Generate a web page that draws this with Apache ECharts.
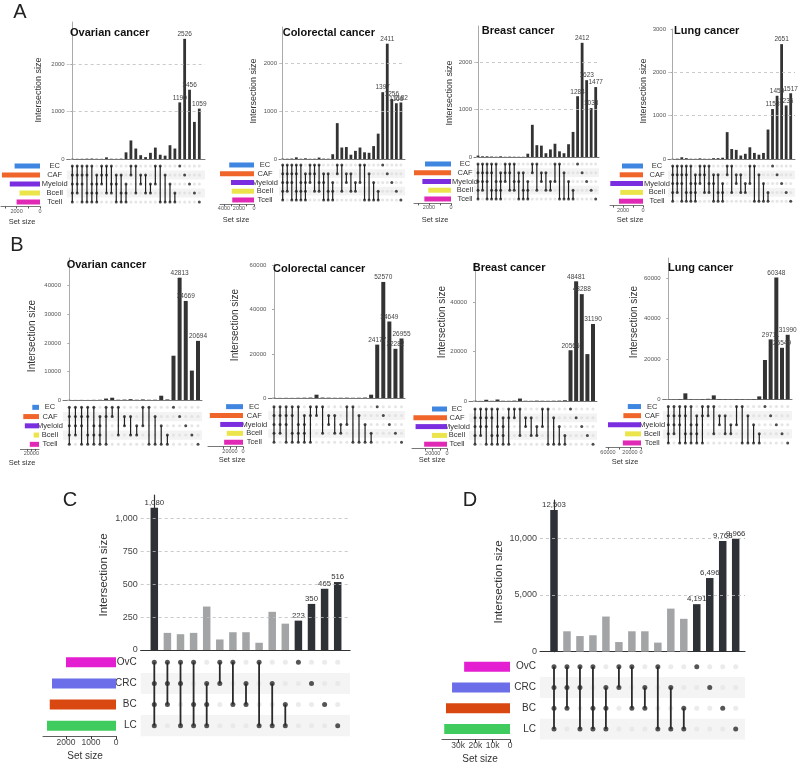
<!DOCTYPE html>
<html><head><meta charset="utf-8">
<script src="https://cdn.jsdelivr.net/npm/echarts@6/dist/echarts.min.js"></script>
<style>html,body{margin:0;padding:0;background:#fff}#c{width:800px;height:765px}</style>
</head><body><div id="c"></div>
<script>
// ================= DATA =================
// Panels A & B: cell-type sets
const setsAB = ['EC','CAF','Myeloid','Bcell','Tcell'];
const colorsAB = ['#3f86e0','#f0652a','#7b2ee0','#ebe54b','#e02ab6'];
const combosA = ['11111','11110','11101','11011','10111','01111',
  '11100','11010','10110','01101','01011','00111',
  '11000','10010','01100','01010','00110','10100','10001','01001','00101','00011',
  '10000','01000','00100','00010','00001'];
const combosB = ['11111','11110','11101','11011','10111','01111','11001',
  '11000','10010','01100','01010','00110','10100','10001','01001','00101','00011',
  '10000','01000','00100','00010','00001'];

// Panel A intersection sizes
const ovarianA = [6,4,5,8,10,6,4,35,6,5,8, 140,390,220,80,40,130,240,90,70,290,220, 1190,2526,1456,780,1059];
const colorectalA = [8,6,10,35,6,15,5,6,30,8,6, 100,750,240,250,90,170,240,140,130,270,530, 1397,2411,1256,1166,1182];
const breastA = [30,15,15,10,6,15,5,8,6,5,5, 70,680,250,240,80,160,280,120,80,270,530, 1284,2412,1623,1033,1477];
const lungA = [5,8,40,20,6,5,15,6,5,20,20, 30,620,230,210,80,120,270,140,100,140,680, 1153,1459,2651,1236,1517];
const ovarianA_labeled = [22,23,24,26];
const colorectalA_labeled = [22,23,24,25,26];
const breastA_labeled = [22,23,24,25,26];
const lungA_labeled = [22,23,24,25,26];
// Panel A set sizes
const ovarianA_set = [2170,3250,2580,1750,2000];
const colorectalA_set = [3300,4600,3070,2970,2900];
const breastA_set = [2360,3360,2600,2060,2420];
const lungA_set = [2100,2330,3270,2270,2400];

// Panel B intersection sizes
const ovarianB = [50,30,40,30,60,80,500,800,100,150,300,100,200,80,100,1500,200, 15500,42813,34669,10300,20694];
const colorectalB = [100,50,80,60,100,150,200,1500,200,150,100,120,150,100,120,200,1500, 24177,52570,34649,22282,26955];
const breastB = [100,50,500,80,600,100,80,150,1000,100,80,150,100,80,120,150,300, 20565,48481,43288,19000,31190];
const lungB = [100,80,200,3000,150,100,200,300,2000,200,150,100,200,150,100,200,1500, 19500,29711,60348,25549,31990];
const ovarianB_labeled = [18,19,21];
const colorectalB_labeled = [17,18,19,20,21];
const breastB_labeled = [17,18,19,21];
const lungB_labeled = [18,19,20,21];
// Panel B set sizes
const ovarianB_set = [17500,41000,37000,14000,24000];
const colorectalB_set = [26000,51000,35000,25000,29000];
const breastB_set = [21000,47000,44000,21000,32000];
const lungB_set = [24000,32000,60000,29000,33000];

// Panels C & D: cancer-type sets
const setsCD = ['OvC','CRC','BC','LC'];
const colorsCD = ['#e31fd1','#6b6ee8','#d94810','#3fcb5d'];
const combosCD = ['1111','1110','1101','1011','0111','1100','1010','0110','1001','0101','0011','1000','0100','0010','0001'];
const valuesC = [1080,130,120,130,330,80,135,135,55,290,200,223,350,465,516];
const valuesD = [12503,1800,1380,1450,3100,850,1800,1800,800,3800,2900,4191,6496,9768,9966];
const highlightCD = [1,0,0,0,0,0,0,0,0,0,0,1,1,1,1];
const setSizeC = [2000,2560,2650,2760];
const setSizeD = [26500,33500,37000,38000];

// Tick values
const yTicksA3 = [0,1000,2000];
const yTicksA4 = [0,1000,2000,3000];
const yTicksBov = [0,10000,20000,30000,40000];
const yTicksB3 = [0,20000,40000];
const yTicksB4 = [0,20000,40000,60000];
const yTicksC = [0,250,500,750,1000];
const yTicksD = [0,5000,10000];
const dashA = [1000,2000];
const dashC = [250,500,750,1000];
const dashD = [5000,10000];
const setTicksA3 = [0,1000,2000,3000];
const setTicksA4 = [0,1000,2000,3000,4000];
const setLabA2 = [0,2000];
const setLabA3 = [0,2000,4000];
const setTicksB = [0,10000,20000,30000,40000];
const setLabB = [0,20000,40000];
const setTicksBl = [0,20000,40000,60000];
const setLabBl = [0,20000,60000];
const setTicksC = [0,1000,2000];
const setTicksD = [0,10000,20000,30000];

// ================= BUILD =================
const FONT = '"Liberation Sans", Arial, sans-serif';
const option = {animation:false, backgroundColor:'#fff', grid:[], xAxis:[], yAxis:[], series:[], graphic:[]};
function addAxes(grid, xa, ya){
  option.grid.push(grid); const gi = option.grid.length-1;
  option.xAxis.push(Object.assign({gridIndex:gi}, xa));
  option.yAxis.push(Object.assign({gridIndex:gi}, ya));
  return gi;
}
function txt(x,y,text,size,opt){
  opt = opt||{};
  option.graphic.push({type:'text', x:x, y:y, rotation:opt.rot||0, silent:true, z:100,
    style:{text:text, fontSize:size, fontFamily:FONT, fontWeight:opt.bold?'bold':'normal', fill:opt.color||'#222',
      align:opt.align||'center', verticalAlign:'middle'}});
}
const plain = v => String(v);
const comma = v => Number(v).toLocaleString('en-US');
const kfmt = v => v===0 ? '0' : (v/1000)+'k';

const styleA = {axisColor:'#777', yAxisColor:'#aaa', axisW:1, tickLen:2, tickFont:6, tickColor:'#555', tickMargin:2,
  barW:2.8, dataFont:6.5, dataColor:'#444', setFont:7.5, dotSize:3, bgDot:'#dedede', dot:'#1f1f1f', lineW:1.2,
  stripe:'#f3f3f3', setBarW:5, setAxisColor:'#555', setTickLen:2, setTickFont:5.5, setTickMargin:1.5, dash:'#bdbdbd',
  textColor:'#333'};
const styleB = Object.assign({}, styleA, {barW:4, dataFont:6.5});
const styleCD = {axisColor:'#333', yAxisColor:'#333', axisW:1.2, tickLen:3, tickFont:9, tickColor:'#444', tickMargin:3,
  barW:7.5, dataFont:7.8, dataColor:'#333', setFont:10, dotSize:5, bgDot:'#e6e6e6', dot:'#2a2a2a', lineW:1.8,
  stripe:'#f4f4f4', setBarW:10, setAxisColor:'#333', setTickLen:3, setTickFont:8.5, setTickMargin:2, dash:'#bdbdbd',
  textColor:'#333'};

function upset(p){
  const L = p.layout, S = p.style, n = p.combos.length, ns = p.sets.length;
  const sp = (L.lastC - L.firstC)/(n-1);
  const xmin = -(L.firstC - L.axisX)/sp;
  const xmax = (n-1) + (L.rightEnd - L.lastC)/sp;
  const w = L.rightEnd - L.axisX;
  const mh = L.rowH*ns;
  // bars
  const gb = addAxes({left:L.axisX, top:L.barTop, width:w, height:L.barBottom-L.barTop},
    {type:'value', min:xmin, max:xmax, axisLine:{show:true, onZero:false, lineStyle:{color:S.axisColor, width:S.axisW}},
      axisTick:{show:false}, axisLabel:{show:false}, splitLine:{show:false}},
    {type:'value', min:0, max:L.yMax, axisLine:{show:true, lineStyle:{color:S.yAxisColor, width:S.axisW}},
      axisTick:{show:true, length:S.tickLen, lineStyle:{color:S.yAxisColor}, customValues:p.yTicks},
      axisLabel:{show:true, customValues:p.yTicks, formatter:p.yFmt, fontSize:S.tickFont, color:S.tickColor, margin:S.tickMargin, fontFamily:FONT},
      splitLine:{show:false}});
  option.series.push({type:'bar', xAxisIndex:gb, yAxisIndex:gb, barWidth:S.barW,
    data:p.values.map((v,i)=>({value:[i,v],
      itemStyle:{color: p.highlight ? (p.highlight[i] ? '#2e3236' : '#a2a4a6') : '#333'},
      label:{show: p.labeled.indexOf(i) >= 0}})),
    label:{show:false, position:'top', distance:1, fontSize:S.dataFont, color:S.dataColor, fontFamily:FONT,
      formatter: q => p.fmt(q.value[1])},
    markLine:{silent:true, symbol:'none', label:{show:false}, animation:false,
      lineStyle:{type:[3,3], color:S.dash, width:0.8}, data:(p.dashed||[]).map(v=>({yAxis:v}))},
    z:3});
  // matrix
  const gm = addAxes({left:L.axisX, top:L.matTop, width:w, height:mh},
    {type:'value', min:xmin, max:xmax, show:false},
    {type:'category', data:p.sets, inverse:true, axisLine:{show:false}, axisTick:{show:false},
      axisLabel:{show:true, interval:0, hideOverlap:false, align:L.labelAlign, margin:L.labelMargin, fontSize:S.setFont, color:S.textColor, fontFamily:FONT},
      splitLine:{show:false}, splitArea:{show:true, interval:0, areaStyle:{color:['rgba(255,255,255,0)', S.stripe]}}});
  const bg=[], fg=[], segs=[];
  p.combos.forEach((c,i)=>{
    const rows=[];
    for(let r=0;r<ns;r++){ if(c[r]==='1'){fg.push([i,r]); rows.push(r);} else bg.push([i,r]); }
    if(rows.length>1) segs.push([i, rows[0], rows[rows.length-1]]);
  });
  option.series.push({type:'scatter', xAxisIndex:gm, yAxisIndex:gm, data:bg, symbolSize:S.dotSize, itemStyle:{color:S.bgDot}, silent:true, z:2});
  option.series.push({type:'custom', xAxisIndex:gm, yAxisIndex:gm, data:segs, encode:{x:0, y:[1,2]}, silent:true, z:3,
    renderItem:(params, api)=>{
      const a = api.coord([api.value(0), api.value(1)]);
      const b = api.coord([api.value(0), api.value(2)]);
      return {type:'line', shape:{x1:a[0], y1:a[1], x2:b[0], y2:b[1]}, style:{stroke:S.dot, lineWidth:S.lineW}};
    }});
  option.series.push({type:'scatter', xAxisIndex:gm, yAxisIndex:gm, data:fg, symbolSize:S.dotSize, itemStyle:{color:S.dot}, silent:true, z:4});
  // set sizes
  const gs = addAxes({left:L.setLeft, top:L.matTop, width:L.setRight-L.setLeft, height:mh},
    {type:'value', inverse:true, min:0, max:L.setMax, position:'bottom',
      axisLine:{show:true, onZero:false, lineStyle:{color:S.setAxisColor, width:0.8}},
      axisTick:{show:true, length:S.setTickLen, customValues:p.setTicks, lineStyle:{color:S.setAxisColor}},
      axisLabel:{show:true, customValues:p.setLabels, formatter:p.setFmt, fontSize:S.setTickFont, color:S.tickColor, margin:S.setTickMargin, fontFamily:FONT},
      splitLine:{show:false}},
    {type:'category', data:p.sets, inverse:true, show:false});
  option.series.push({type:'bar', xAxisIndex:gs, yAxisIndex:gs, barWidth:S.setBarW,
    data:p.setSizes.map((v,r)=>({value:v, itemStyle:{color:p.colors[r]}})), silent:true});
  // texts
  if(p.title) txt(p.titlePos[0], p.titlePos[1], p.title, p.titleSize||11, {bold:true, align:'left', color:'#111'});
  txt(p.yTitlePos[0], p.yTitlePos[1], 'Intersection size', p.yTitleSize, {rot:Math.PI/2, color:'#333'});
  txt(p.setTitlePos[0], p.setTitlePos[1], 'Set size', p.setTitleSize, {color:'#333'});
}

const baseA = {sets:setsAB, colors:colorsAB, combos:combosA, fmt:plain, yFmt:plain, setFmt:plain, style:styleA,
  dashed:dashA, yTitleSize:9, setTitleSize:7.5};
const baseB = {sets:setsAB, colors:colorsAB, combos:combosB, fmt:plain, yFmt:plain, setFmt:plain, style:styleB,
  yTitleSize:10, setTitleSize:7.5, setTicks:setTicksB, setLabels:setLabB};

upset(Object.assign({}, baseA, {title:'Ovarian cancer', values:ovarianA, labeled:ovarianA_labeled, setSizes:ovarianA_set,
  yTicks:yTicksA3, setTicks:setTicksA3, setLabels:setLabA2,
  layout:{axisX:66.7, firstC:72.3, lastC:199.3, rightEnd:205, barTop:22, barBottom:159, matTop:161.5, rowH:9,
    labelAlign:'center', labelMargin:12, setLeft:1, setRight:40, yMax:2880, setMax:3330},
  titlePos:[70,33], yTitlePos:[38.3,90], setTitlePos:[22,221.7]}));
upset(Object.assign({}, baseA, {title:'Colorectal cancer', values:colorectalA, labeled:colorectalA_labeled, setSizes:colorectalA_set,
  yTicks:yTicksA3, setTicks:setTicksA4, setLabels:setLabA3,
  layout:{axisX:279, firstC:282.7, lastC:400.9, rightEnd:405, barTop:27, barBottom:159, matTop:160.6, rowH:8.75,
    labelAlign:'center', labelMargin:14, setLeft:220, setRight:254, yMax:2760, setMax:4530},
  titlePos:[282.7,33], yTitlePos:[253.3,91], setTitlePos:[236,219.5]}));
upset(Object.assign({}, baseA, {title:'Breast cancer', values:breastA, labeled:breastA_labeled, setSizes:breastA_set,
  yTicks:yTicksA3, setTicks:setTicksA3, setLabels:setLabA2,
  layout:{axisX:474, firstC:478, lastC:595.7, rightEnd:599, barTop:26, barBottom:157, matTop:159.6, rowH:8.75,
    labelAlign:'center', labelMargin:9, setLeft:414, setRight:451, yMax:2767, setMax:3360},
  titlePos:[481.7,31], yTitlePos:[450,93], setTitlePos:[435,219.5]}));
upset(Object.assign({}, baseA, {title:'Lung cancer', values:lungA, labeled:lungA_labeled, setSizes:lungA_set,
  yTicks:yTicksA4, setTicks:setTicksA3, setLabels:setLabA2,
  layout:{axisX:668, firstC:672.7, lastC:790.7, rightEnd:795, barTop:29, barBottom:159, matTop:161.6, rowH:8.8,
    labelAlign:'center', labelMargin:11, setLeft:610, setRight:643, yMax:3000, setMax:3300},
  titlePos:[674,31], yTitlePos:[643.3,91], setTitlePos:[630,219.5]}));

upset(Object.assign({}, baseB, {title:'Ovarian cancer', values:ovarianB, labeled:ovarianB_labeled, setSizes:ovarianB_set,
  yTicks:yTicksBov,
  layout:{axisX:63, firstC:69.3, lastC:198, rightEnd:202, barTop:258, barBottom:400, matTop:402.7, rowH:9.25,
    labelAlign:'center', labelMargin:13, setLeft:0, setRight:39, yMax:49700, setMax:48750},
  titlePos:[66.7,265], yTitlePos:[32.3,336], setTitlePos:[22,463]}));
upset(Object.assign({}, baseB, {title:'Colorectal cancer', values:colorectalB, labeled:colorectalB_labeled, setSizes:colorectalB_set,
  yTicks:yTicksB4,
  layout:{axisX:268.3, firstC:274, lastC:401.5, rightEnd:405, barTop:264, barBottom:398, matTop:402.2, rowH:8.9,
    labelAlign:'center', labelMargin:14, setLeft:208, setRight:243, yMax:60700, setMax:53800},
  titlePos:[273,269], yTitlePos:[235,325], setTitlePos:[232,460]}));
upset(Object.assign({}, baseB, {title:'Breast cancer', values:breastB, labeled:breastB_labeled, setSizes:breastB_set,
  yTicks:yTicksB3,
  layout:{axisX:469, firstC:475, lastC:593, rightEnd:597, barTop:263, barBottom:401, matTop:404.6, rowH:8.8,
    labelAlign:'center', labelMargin:12, setLeft:412, setRight:447, yMax:55900, setMax:49000},
  titlePos:[472.7,268], yTitlePos:[442.7,322], setTitlePos:[432,460]}));
upset(Object.assign({}, baseB, {title:'Lung cancer', values:lungB, labeled:lungB_labeled, setSizes:lungB_set,
  yTicks:yTicksB4, setTicks:setTicksBl, setLabels:setLabBl,
  layout:{axisX:662.7, firstC:668.3, lastC:787.7, rightEnd:792, barTop:258, barBottom:399.4, matTop:402, rowH:9.1,
    labelAlign:'center', labelMargin:10.5, setLeft:606, setRight:641, yMax:70000, setMax:63600},
  titlePos:[668,268], yTitlePos:[634.3,322], setTitlePos:[625,462]}));

upset({sets:setsCD, colors:colorsCD, combos:combosCD, values:valuesC, highlight:highlightCD,
  labeled:highlightCD.map((h,i)=>h?i:-1).filter(i=>i>=0), setSizes:setSizeC,
  fmt:comma, yFmt:comma, setFmt:plain, style:styleCD, dashed:dashC, yTicks:yTicksC, setTicks:setTicksC, setLabels:setTicksC,
  layout:{axisX:140.7, firstC:154.3, lastC:337.7, rightEnd:350, barTop:495, barBottom:650, matTop:651.8, rowH:21.1,
    labelAlign:'right', labelMargin:4, setLeft:43, setRight:116, yMax:1177, setMax:2920},
  yTitlePos:[104,575], yTitleSize:11.5, setTitlePos:[85,756], setTitleSize:10});
upset({sets:setsCD, colors:colorsCD, combos:combosCD, values:valuesD, highlight:highlightCD,
  labeled:highlightCD.map((h,i)=>h?i:-1).filter(i=>i>=0), setSizes:setSizeD,
  fmt:comma, yFmt:comma, setFmt:kfmt, style:styleCD, dashed:dashD, yTicks:yTicksD, setTicks:setTicksD, setLabels:setTicksD,
  layout:{axisX:540, firstC:554, lastC:735.7, rightEnd:745, barTop:500, barBottom:651.7, matTop:656.3, rowH:20.8,
    labelAlign:'right', labelMargin:4, setLeft:442, setRight:510, yMax:13377, setMax:39300},
  yTitlePos:[499,582], yTitleSize:11.5, setTitlePos:[480,759], setTitleSize:10});

// Panel letters
txt(20,12,'A',20,{color:'#222'});
txt(17,245,'B',20,{color:'#222'});
txt(70,500,'C',20,{color:'#222'});
txt(470,500,'D',20,{color:'#222'});

const chart = echarts.init(document.getElementById('c'), null, {renderer:'canvas', width:800, height:765});
chart.setOption(option);
</script></body></html>
